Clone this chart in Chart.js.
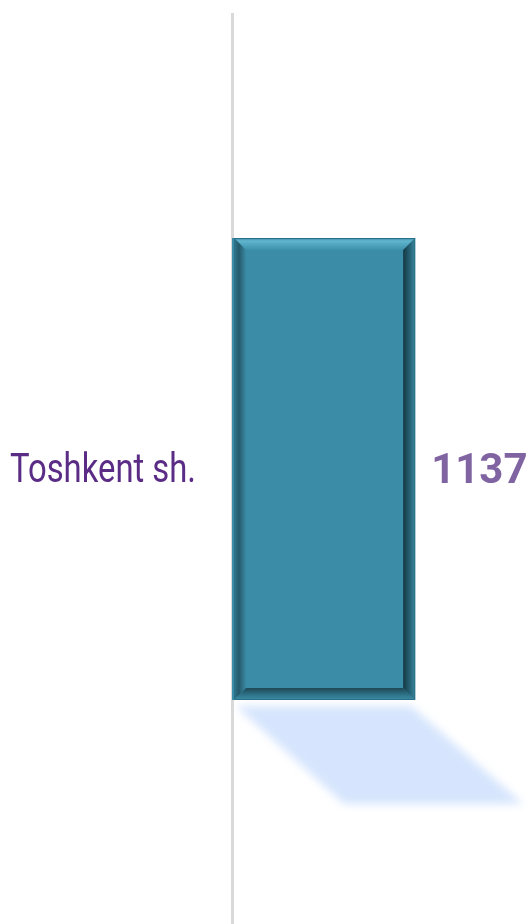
<!DOCTYPE html>
<html>
<head>
<meta charset="utf-8">
<script src="https://cdn.jsdelivr.net/npm/chart.js@4"></script>
<style>
  html, body { margin: 0; padding: 0; background: #fff; }
  #wrap { width: 530px; height: 924px; }
</style>
</head>
<body>
<div id="wrap"><canvas id="chart"></canvas></div>
<script>
const categories = ["Toshkent sh."];
const values = [1137];
const axisMax = 1850;

// tushgan soya + bo'rtma ramka + yozuvlar
const decor = {
  id: "decor",
  beforeDatasetsDraw(chart) {
    const ctx = chart.ctx;
    chart.getDatasetMeta(0).data.forEach(function (bar) {
      const left = bar.base, right = bar.x;
      const bottom = bar.y + bar.height / 2;
      ctx.save();
      ctx.filter = "blur(4px)";
      ctx.fillStyle = "#d6e5fd";
      ctx.beginPath();
      ctx.moveTo(left + 4, bottom + 6);
      ctx.lineTo(right - 4, bottom + 6);
      ctx.lineTo(right + 108, bottom + 104);
      ctx.lineTo(left + 112, bottom + 104);
      ctx.closePath();
      ctx.fill();
      ctx.restore();
    });
  },
  afterDatasetsDraw(chart) {
    const ctx = chart.ctx;
    chart.getDatasetMeta(0).data.forEach(function (bar, i) {
      const l = bar.base + 2, r = bar.x;
      const t = bar.y - bar.height / 2, b = bar.y + bar.height / 2;
      const w = 12;
      ctx.save();
      // yuqori
      let g = ctx.createLinearGradient(0, t, 0, t + w);
      g.addColorStop(0, "#3b8ba3");
      g.addColorStop(0.25, "#62b6cf");
      g.addColorStop(0.6, "#4ea3bd");
      g.addColorStop(1, "#3d91ab");
      ctx.fillStyle = g;
      ctx.beginPath();
      ctx.moveTo(l, t); ctx.lineTo(r, t); ctx.lineTo(r - w, t + w); ctx.lineTo(l + w, t + w);
      ctx.closePath(); ctx.fill();
      // chap
      g = ctx.createLinearGradient(l, 0, l + w, 0);
      g.addColorStop(0, "#2f7a90");
      g.addColorStop(0.4, "#25596b");
      g.addColorStop(1, "#3a8aa3");
      ctx.fillStyle = g;
      ctx.beginPath();
      ctx.moveTo(l, t); ctx.lineTo(l + w, t + w); ctx.lineTo(l + w, b - w); ctx.lineTo(l, b);
      ctx.closePath(); ctx.fill();
      // o'ng
      g = ctx.createLinearGradient(r - w, 0, r, 0);
      g.addColorStop(0, "#143842");
      g.addColorStop(0.5, "#245e70");
      g.addColorStop(1, "#3a88a0");
      ctx.fillStyle = g;
      ctx.beginPath();
      ctx.moveTo(r, t); ctx.lineTo(r, b); ctx.lineTo(r - w, b - w); ctx.lineTo(r - w, t + w);
      ctx.closePath(); ctx.fill();
      // pastki
      g = ctx.createLinearGradient(0, b - w, 0, b);
      g.addColorStop(0, "#1d4755");
      g.addColorStop(0.5, "#2c6e83");
      g.addColorStop(1, "#3c8ea7");
      ctx.fillStyle = g;
      ctx.beginPath();
      ctx.moveTo(l, b); ctx.lineTo(r, b); ctx.lineTo(r - w, b - w); ctx.lineTo(l + w, b - w);
      ctx.closePath(); ctx.fill();
      ctx.strokeStyle = "#2b7088";
      ctx.lineWidth = 1;
      ctx.strokeRect(l + 0.5, t + 0.5, r - l - 1, b - t - 1);

      // qiymat
      ctx.fillStyle = "#8064a2";
      ctx.font = "bold 42px Roboto";
      ctx.textAlign = "left";
      ctx.textBaseline = "middle";
      ctx.fillText(String(values[i]), r + 16, bar.y + 3);
      ctx.restore();
    });

    // kategoriya nomlari
    const yScale = chart.scales.y;
    ctx.save();
    ctx.fillStyle = "#5b2c86";
    ctx.font = "40px Roboto";
    ctx.textBaseline = "middle";
    ctx.textAlign = "right";
    categories.forEach(function (name, i) {
      const y = yScale.getPixelForTick(i);
      ctx.save();
      ctx.translate(196, y + 3);
      ctx.scale(0.82, 1);
      ctx.fillText(name, 0, 0);
      ctx.restore();
    });
    ctx.restore();
  }
};

new Chart(document.getElementById("chart"), {
  type: "bar",
  data: {
    labels: categories,
    datasets: [{
      data: values,
      backgroundColor: "#3a8ca7",
      borderWidth: 0,
      categoryPercentage: 1,
      barPercentage: 0.5077
    }]
  },
  options: {
    indexAxis: "y",
    responsive: true,
    maintainAspectRatio: false,
    animation: false,
    layout: { padding: { top: 14, left: 224, right: 0, bottom: 0 } },
    plugins: { legend: { display: false }, tooltip: { enabled: false } },
    scales: {
      x: {
        min: 0,
        max: axisMax,
        display: false
      },
      y: {
        grid: { display: false },
        ticks: { display: false },
        border: { display: true, color: "#d9d9d9", width: 3 }
      }
    }
  },
  plugins: [decor]
});
</script>
</body>
</html>
